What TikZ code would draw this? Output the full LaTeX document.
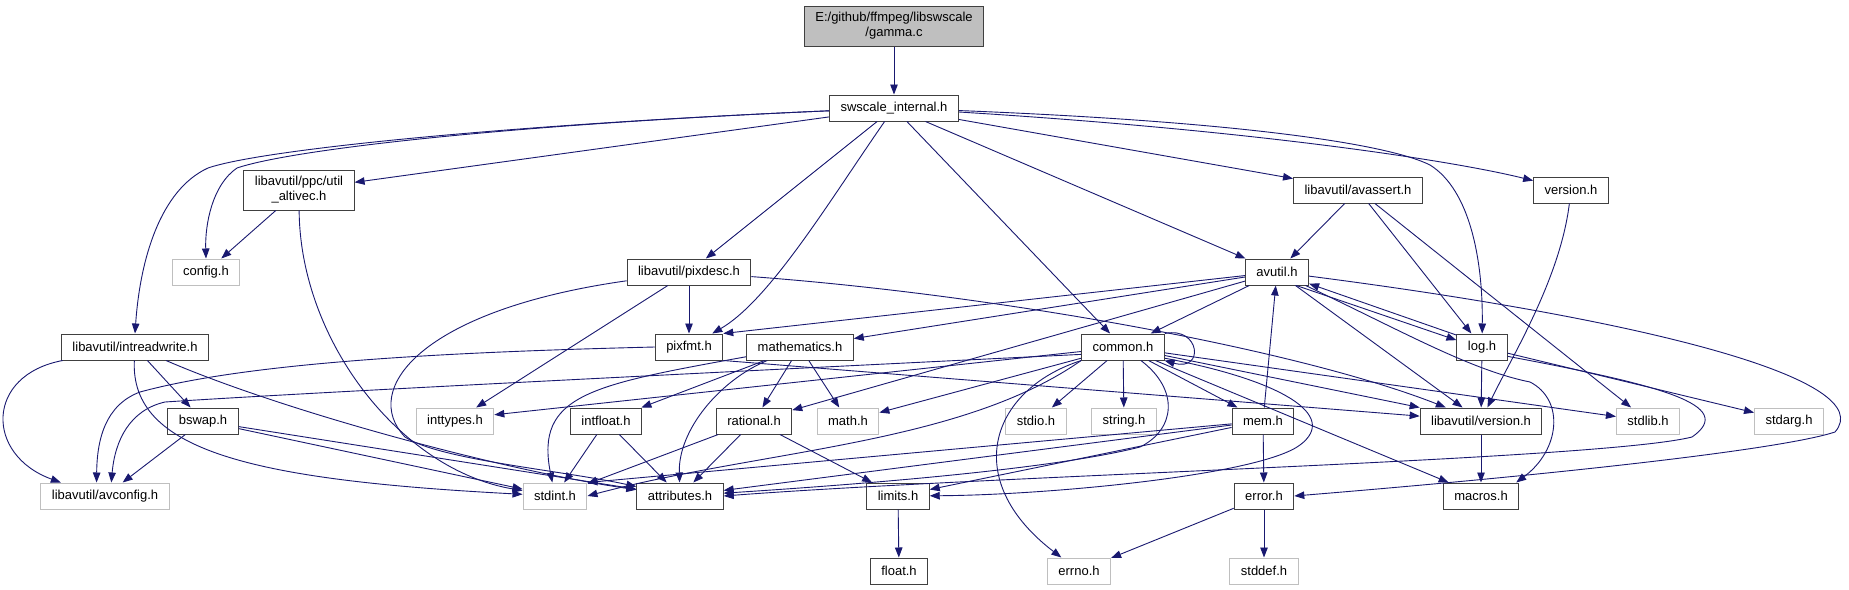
\documentclass[tikz,border=0pt]{standalone}
\usepackage{fontspec}
\setmainfont{Liberation Sans}
\usetikzlibrary{arrows.meta}
\definecolor{edgeblue}{HTML}{191970}
\definecolor{boxgrey}{HTML}{BFBFBF}

\begin{document}
\begin{tikzpicture}[
    x=1pt, y=-1pt,
    hdr/.style={draw=black!75, line width=1pt, fill=white, inner xsep=11pt, inner ysep=0pt, minimum height=26pt, font=\fontsize{13}{15}\selectfont},
    ext/.style={hdr, draw=boxgrey},
    twoline/.style={align=center, minimum height=40pt},
    inc/.style={-{Triangle[length=10pt, width=7.5pt]}, draw=edgeblue, line width=0.9pt}
]
    \useasboundingbox (0,0) rectangle (1849,589);
    \fill[white] (0,0) rectangle (1849,589);

    \node[hdr, twoline, fill=boxgrey] (gammac) at (894,26) {E:/github/ffmpeg/libswscale\\/gamma.c};
    \node[hdr] (swsint) at (894,108) {swscale\_internal.h};

    \node[hdr, twoline] (altivec) at (299,190) {libavutil/ppc/util\\\_altivec.h};
    \node[hdr] (avassert) at (1358,190) {libavutil/avassert.h};
    \node[hdr] (swsver) at (1571,190) {version.h};

    \node[ext] (config) at (206,272) {config.h};
    \node[hdr] (pixdesc) at (689,272) {libavutil/pixdesc.h};
    \node[hdr] (avutil) at (1277,272) {avutil.h};

    \node[hdr] (intrw) at (135,347) {libavutil/intreadwrite.h};
    \node[hdr] (pixfmt) at (689,347) {pixfmt.h};
    \node[hdr] (mathem) at (800,347) {mathematics.h};
    \node[hdr] (common) at (1123,347) {common.h};
    \node[hdr] (log) at (1482,347) {log.h};

    \node[hdr] (bswap) at (203,421) {bswap.h};
    \node[ext] (inttypes) at (455,421) {inttypes.h};
    \node[hdr] (intfloat) at (606,421) {intfloat.h};
    \node[hdr] (rational) at (754,421) {rational.h};
    \node[ext] (mathh) at (848,421) {math.h};
    \node[ext] (stdioh) at (1036,421) {stdio.h};
    \node[ext] (stringh) at (1124,421) {string.h};
    \node[hdr] (mem) at (1263,421) {mem.h};
    \node[hdr] (avver) at (1481,421) {libavutil/version.h};
    \node[ext] (stdlibh) at (1648,421) {stdlib.h};
    \node[ext] (stdargh) at (1789,421) {stdarg.h};

    \node[ext] (avconfig) at (105,496) {libavutil/avconfig.h};
    \node[ext] (stdint) at (555,496) {stdint.h};
    \node[hdr] (attrib) at (680,496) {attributes.h};
    \node[hdr] (limits) at (898,496) {limits.h};
    \node[hdr] (error) at (1264,496) {error.h};
    \node[hdr] (macros) at (1481,496) {macros.h};

    \node[hdr] (floath) at (899,571) {float.h};
    \node[ext] (errno) at (1079,571) {errno.h};
    \node[ext] (stddef) at (1264,571) {stddef.h};

    \draw[inc] (gammac) -- (swsint);

    \draw[inc] (swsint) .. controls (500,125) and (260,150) .. (208,168) .. controls (160,190) and (140,260) .. (intrw.north);
    \draw[inc] (swsint) .. controls (500,125) and (290,150) .. (237,168) .. controls (212,185) and (205,225) .. (config.north);
    \draw[inc] (swsint) -- (altivec);
    \draw[inc] (swsint) -- (pixdesc);
    \draw[inc] (swsint) .. controls (830,200) and (770,300) .. (pixfmt);
    \draw[inc] (swsint) -- (common);
    \draw[inc] (swsint) -- (avutil);
    \draw[inc] (swsint) -- (avassert);
    \draw[inc] (swsint) .. controls (1250,130) and (1450,160) .. (swsver);
    \draw[inc] (swsint) .. controls (1250,122) and (1390,145) .. (1430,165) .. controls (1470,190) and (1483,260) .. (log);

    \draw[inc] (altivec) -- (config);
    \draw[inc] (altivec) .. controls (300,340) and (400,470) .. (stdint);

    \draw[inc] (pixdesc) -- (pixfmt);
    \draw[inc] (pixdesc) -- (inttypes);
    \draw[inc] (pixdesc) .. controls (420,310) and (360,390) .. (405,437) .. controls (440,460) and (560,470) .. (attrib);
    \draw[inc] (pixdesc) .. controls (1000,295) and (1300,350) .. (avver.159);

    \draw[inc] (intrw) .. controls (-15,375) and (-15,455) .. (avconfig.163);
    \draw[inc] (intrw) .. controls (130,450) and (250,480) .. (stdint);
    \draw[inc] (intrw) -- (bswap);
    \draw[inc] (intrw) .. controls (280,410) and (500,470) .. (attrib);

    \draw[inc] (bswap) -- (avconfig);
    \draw[inc] (bswap) -- (stdint);
    \draw[inc] (bswap) -- (attrib);

    \draw[inc] (pixfmt.west) .. controls (450,352) and (250,362) .. (140,392) .. controls (105,405) and (97,440) .. (avconfig.122);
    \draw[inc] (pixfmt.south east) -- (avver);

    \draw[inc] (mathem) -- (intfloat);
    \draw[inc] (mathem) -- (rational);
    \draw[inc] (mathem) -- (mathh);
    \draw[inc] (mathem) .. controls (720,380) and (678,430) .. (attrib);
    \draw[inc] (mathem) .. controls (590,385) and (535,395) .. (stdint);

    \draw[inc] (avutil) -- (pixfmt.north east);
    \draw[inc] (avutil) -- (mathem);
    \draw[inc] (avutil) -- (common);
    \draw[inc] (avutil) -- (rational);
    \draw[inc] (avutil) -- (avver);
    \draw[inc] (avutil.-35) -- (log.165);
    \draw[inc] (log.155) -- (avutil.-20);
    \draw[inc] (avutil) .. controls (1400,330) and (1470,370) .. (1530,382) .. controls (1565,400) and (1560,450) .. (macros.21);
    \draw[inc] (avutil) .. controls (1650,320) and (1880,380) .. (1835,432) .. controls (1780,450) and (1550,475) .. (error.east);

    \draw[inc] (log) -- (avver);
    \draw[inc] (log) -- (stdargh);
    \draw[inc] (log.-20) .. controls (1660,385) and (1738,405) .. (1692,437) .. controls (1600,460) and (1000,475) .. (attrib.east);

    \draw[inc] (avassert) -- (avutil);
    \draw[inc] (avassert) -- (log);
    \draw[inc] (avassert) -- (stdlibh);
    \draw[inc] (swsver) .. controls (1560,280) and (1510,360) .. (avver);

    \draw[inc] (common.north east) .. controls (1200,326) and (1205,372) .. (common.-18);
    \draw[inc] (common.190) .. controls (700,373) and (300,393) .. (165,402) .. controls (130,410) and (115,440) .. (avconfig.65);
    \draw[inc] (common) -- (inttypes.9);
    \draw[inc] (common) -- (mathh);
    \draw[inc] (common) -- (stdioh);
    \draw[inc] (common) -- (stringh);
    \draw[inc] (common) -- (mem);
    \draw[inc] (common) -- (avver.north west);
    \draw[inc] (common) -- (stdlibh);
    \draw[inc] (common) -- (macros);
    \draw[inc] (common) .. controls (990,390) and (960,480) .. (errno);
    \draw[inc] (common.-15) .. controls (1280,380) and (1340,415) .. (1300,445) .. controls (1260,475) and (1050,495) .. (limits);
    \draw[inc] (common) .. controls (1180,390) and (1175,430) .. (1140,447) .. controls (1050,470) and (850,485) .. (attrib);
    \draw[inc] (common.south west) .. controls (960,445) and (760,450) .. (stdint.east);

    \draw[inc] (intfloat) -- (stdint);
    \draw[inc] (intfloat) -- (attrib);
    \draw[inc] (rational) -- (stdint);
    \draw[inc] (rational) -- (attrib);
    \draw[inc] (rational) -- (limits);

    \draw[inc] (mem) -- (attrib);
    \draw[inc] (mem) -- (stdint.north east);
    \draw[inc] (mem) -- (limits);
    \draw[inc] (mem) -- (error);
    \draw[inc] (mem) -- (avutil);

    \draw[inc] (error) -- (errno);
    \draw[inc] (error) -- (stddef);
    \draw[inc] (limits) -- (floath);
    \draw[inc] (avver) -- (macros);
\end{tikzpicture}
\end{document}
